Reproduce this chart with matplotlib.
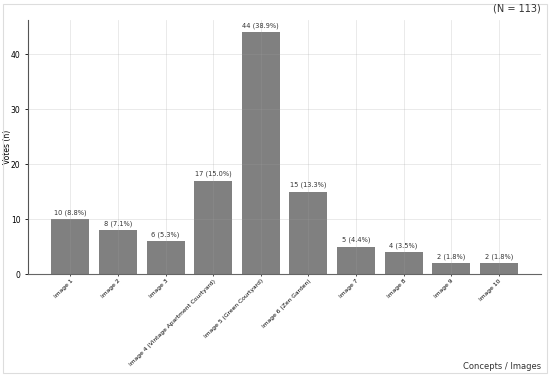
import matplotlib.pyplot as plt
from matplotlib.patches import Rectangle

labels = ["Image 1", "Image 2", "Image 3", "Image 4 (Vintage Apartment Courtyard)",
          "Image 5 (Green Courtyard)", "Image 6 (Zen Garden)", "Image 7", "Image 8",
          "Image 9", "Image 10"]
votes = [10, 8, 6, 17, 44, 15, 5, 4, 2, 2]
total = 113

fig = plt.figure(figsize=(5.5, 3.77), dpi=100)
ax = fig.add_axes([0.051, 0.273, 0.933, 0.674])

x = range(len(labels))
bars = ax.bar(x, votes, width=0.8, color="#808080")
for b, v in zip(bars, votes):
    ax.annotate(f"{v} ({v / total * 100:.1f}%)", (b.get_x() + b.get_width() / 2, v),
                xytext=(0, 2.5), textcoords="offset points", ha="center", va="bottom",
                fontsize=4.8, color="#333333")

ax.set_xticks(list(x))
ax.set_xticklabels(labels, rotation=45, ha="right", rotation_mode="anchor", fontsize=4.3)
ax.tick_params(axis="y", labelsize=5.5, length=2, width=0.6)
ax.tick_params(axis="x", length=1.5, width=0.5, pad=1.5)
ax.set_yticks([0, 10, 20, 30, 40])
ax.set_ylabel("Votes (n)", fontsize=5.5)
ax.yaxis.set_label_coords(-0.031, 0.5)
ax.grid(True, color="#a0a0a0", alpha=0.25, linewidth=0.6)

for s in ["top", "right"]:
    ax.spines[s].set_visible(False)
ax.spines["left"].set_color("#555555")
ax.spines["bottom"].set_color("#666666")
ax.spines["left"].set_linewidth(0.8)
ax.spines["bottom"].set_linewidth(0.8)

fig.text(0.984, 0.978, "(N = 113)", ha="right", va="center", fontsize=7, color="#333333")
fig.text(0.984, 0.029, "Concepts / Images", ha="right", va="center", fontsize=6, color="#333333")

fig.patches.append(Rectangle((0.006, 0.01), 0.988, 0.98, transform=fig.transFigure,
                             fill=False, edgecolor="#dddddd", linewidth=0.8))

fig.savefig("out.png", dpi=100)
